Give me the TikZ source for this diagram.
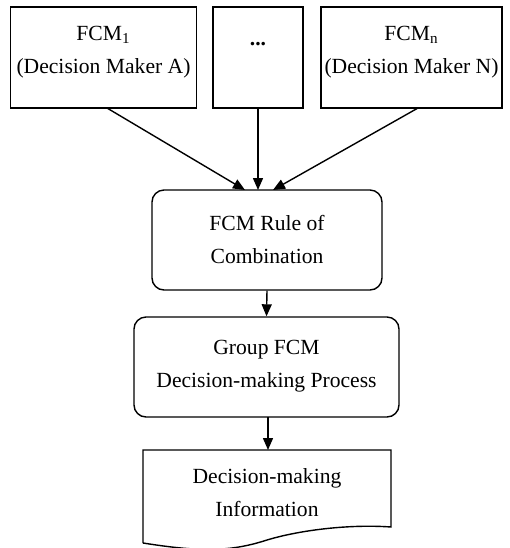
\documentclass[tikz,border=0pt]{standalone}
\usepackage{fontspec}
\setmainfont{Liberation Serif}
\usetikzlibrary{arrows.meta}
\begin{document}
\begin{tikzpicture}[x=0.5pt,y=-0.5pt,
  every path/.style={line width=0.7pt},
  sqbox/.style={draw, rectangle, inner sep=0pt},
  rbox/.style={draw, rectangle, rounded corners=6pt, inner sep=0pt},
  lbl/.style={align=center, font=\fontsize{10.8pt}{16.5pt}\selectfont, inner sep=0pt},
  arr/.style={-{Triangle[length=6pt,width=5pt]}}]
\useasboundingbox (0,0) rectangle (510,548);
% top boxes
\node[sqbox, minimum width=93pt, minimum height=50.5pt] (a) at (103.5,57.5) {};
\node[lbl] (at) at (103.5,52) {FCM\textsubscript{1}\\(Decision Maker A)};
\node[sqbox, minimum width=45pt, minimum height=50.5pt] (b) at (258,57.5) {};
\node[lbl, anchor=base] (bt) at (258,45) {\textbf{...}};
\node[sqbox, minimum width=90.5pt, minimum height=50.5pt] (c) at (411.5,57.5) {};
\node[lbl] (ct) at (411.5,52) {FCM\textsubscript{n}\\(Decision Maker N)};
% rule box
\node[rbox, minimum width=115pt, minimum height=50pt] (r) at (267,240) {};
\node[lbl] (rt) at (267,239) {FCM Rule of\\Combination};
% group box
\node[rbox, minimum width=132.5pt, minimum height=50pt] (g) at (266.5,367) {};
\node[lbl] (gt) at (266.5,366) {Group FCM\\Decision-making Process};
% document
\coordinate (d1) at (143,450);
\coordinate (d2) at (391,450);
\coordinate (d3) at (391,527);
\coordinate (d4) at (143,543);
\draw (d4) -- (d1) -- (d2) -- (d3) .. controls (350,524) and (300,530) .. (267,540) .. controls (230,552) and (200,552) .. (d4);
\node[lbl] (dt) at (267,493) {Decision-making\\Information};
% arrows
\coordinate (s1) at (107,108);
\coordinate (s2) at (258,108);
\coordinate (s3) at (418,108);
\coordinate (e1) at (245,190);
\coordinate (e2) at (258,190);
\coordinate (e3) at (273,190);
\draw[arr] (s1) -- (e1);
\draw[arr] (s2) -- (e2);
\draw[arr] (s3) -- (e3);
\draw[arr] (r.south) -- (g.north);
\coordinate (gd) at (268,417);
\coordinate (dd) at (268,450);
\draw[arr] (gd) -- (dd);
\end{tikzpicture}
\end{document}
